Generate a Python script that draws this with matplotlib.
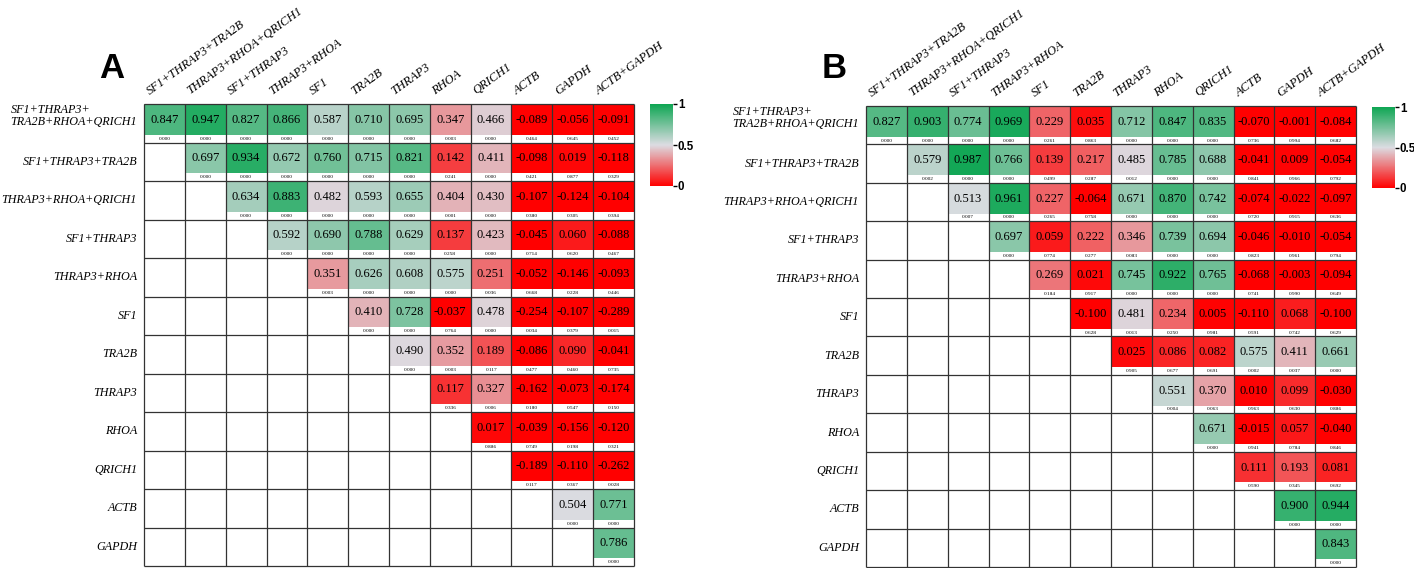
import matplotlib
matplotlib.use("Agg")
import matplotlib.pyplot as plt
from matplotlib.colors import LinearSegmentedColormap, Normalize
from matplotlib.cm import ScalarMappable
from matplotlib.patches import Rectangle

# labels shared by both panels
row_labels = ["SF1+THRAP3+\nTRA2B+RHOA+QRICH1", "SF1+THRAP3+TRA2B", "THRAP3+RHOA+QRICH1",
              "SF1+THRAP3", "THRAP3+RHOA", "SF1", "TRA2B", "THRAP3", "RHOA", "QRICH1",
              "ACTB", "GAPDH"]
col_labels = ["SF1+THRAP3+TRA2B", "THRAP3+RHOA+QRICH1", "SF1+THRAP3", "THRAP3+RHOA",
              "SF1", "TRA2B", "THRAP3", "RHOA", "QRICH1", "ACTB", "GAPDH", "ACTB+GAPDH"]

# upper triangle, row i starts at column i
corr_a = [
    [0.847, 0.947, 0.827, 0.866, 0.587, 0.710, 0.695, 0.347, 0.466, -0.089, -0.056, -0.091],
    [0.697, 0.934, 0.672, 0.760, 0.715, 0.821, 0.142, 0.411, -0.098, 0.019, -0.118],
    [0.634, 0.883, 0.482, 0.593, 0.655, 0.404, 0.430, -0.107, -0.124, -0.104],
    [0.592, 0.690, 0.788, 0.629, 0.137, 0.423, -0.045, 0.060, -0.088],
    [0.351, 0.626, 0.608, 0.575, 0.251, -0.052, -0.146, -0.093],
    [0.410, 0.728, -0.037, 0.478, -0.254, -0.107, -0.289],
    [0.490, 0.352, 0.189, -0.086, 0.090, -0.041],
    [0.117, 0.327, -0.162, -0.073, -0.174],
    [0.017, -0.039, -0.156, -0.120],
    [-0.189, -0.110, -0.262],
    [0.504, 0.771],
    [0.786],
]
pval_a = [
    [0.000, 0.000, 0.000, 0.000, 0.000, 0.000, 0.000, 0.003, 0.000, 0.464, 0.645, 0.452],
    [0.000, 0.000, 0.000, 0.000, 0.000, 0.000, 0.241, 0.000, 0.421, 0.877, 0.329],
    [0.000, 0.000, 0.000, 0.000, 0.000, 0.001, 0.000, 0.380, 0.305, 0.394],
    [0.000, 0.000, 0.000, 0.000, 0.258, 0.000, 0.714, 0.620, 0.467],
    [0.003, 0.000, 0.000, 0.000, 0.036, 0.668, 0.228, 0.446],
    [0.000, 0.000, 0.764, 0.000, 0.034, 0.379, 0.015],
    [0.000, 0.003, 0.117, 0.477, 0.460, 0.735],
    [0.336, 0.006, 0.180, 0.547, 0.150],
    [0.886, 0.749, 0.198, 0.321],
    [0.117, 0.367, 0.028],
    [0.000, 0.000],
    [0.000],
]
corr_b = [
    [0.827, 0.903, 0.774, 0.969, 0.229, 0.035, 0.712, 0.847, 0.835, -0.070, -0.001, -0.084],
    [0.579, 0.987, 0.766, 0.139, 0.217, 0.485, 0.785, 0.688, -0.041, 0.009, -0.054],
    [0.513, 0.961, 0.227, -0.064, 0.671, 0.870, 0.742, -0.074, -0.022, -0.097],
    [0.697, 0.059, 0.222, 0.346, 0.739, 0.694, -0.046, -0.010, -0.054],
    [0.269, 0.021, 0.745, 0.922, 0.765, -0.068, -0.003, -0.094],
    [-0.100, 0.481, 0.234, 0.005, -0.110, 0.068, -0.100],
    [0.025, 0.086, 0.082, 0.575, 0.411, 0.661],
    [0.551, 0.370, 0.010, 0.099, -0.030],
    [0.671, -0.015, 0.057, -0.040],
    [0.111, 0.193, 0.081],
    [0.900, 0.944],
    [0.843],
]
pval_b = [
    [0.000, 0.000, 0.000, 0.000, 0.261, 0.863, 0.000, 0.000, 0.000, 0.736, 0.994, 0.682],
    [0.002, 0.000, 0.000, 0.499, 0.287, 0.012, 0.000, 0.000, 0.841, 0.966, 0.792],
    [0.007, 0.000, 0.265, 0.758, 0.000, 0.000, 0.000, 0.720, 0.915, 0.636],
    [0.000, 0.774, 0.277, 0.083, 0.000, 0.000, 0.823, 0.961, 0.794],
    [0.184, 0.917, 0.000, 0.000, 0.000, 0.741, 0.990, 0.649],
    [0.628, 0.013, 0.250, 0.981, 0.591, 0.742, 0.629],
    [0.905, 0.677, 0.691, 0.002, 0.037, 0.000],
    [0.004, 0.063, 0.963, 0.630, 0.886],
    [0.000, 0.941, 0.784, 0.846],
    [0.590, 0.345, 0.692],
    [0.000, 0.000],
    [0.000],
]

W, H = 1414, 568
SERIF = "Liberation Serif"
cmap = LinearSegmentedColormap.from_list("rg", ["#ff0000", "#dcdce2", "#0ea653"])
norm = Normalize(0, 1)


def panel(grid_px, cbar_px, letter_px, letter, corr, pval):
    x0, y0, x1, y1 = grid_px
    ax = fig.add_axes([x0 / W, 1 - y1 / H, (x1 - x0) / W, (y1 - y0) / H])
    n = len(row_labels)
    ax.set_xlim(0, n)
    ax.set_ylim(n, 0)
    ax.axis("off")

    for i, row in enumerate(corr):
        for k, v in enumerate(row):
            j = i + k
            ax.add_patch(Rectangle((j, i), 1, 0.8, facecolor=cmap(norm(v)), edgecolor="none"))
            ax.text(j + 0.5, i + 0.41, f"{v:.3f}", ha="center", va="center",
                    family=SERIF, fontsize=9)
            ax.text(j + 0.5, i + 0.9, f"{pval[i][k]:.3f}", ha="center", va="center",
                    family=SERIF, fontsize=3.8)

    ax.hlines(range(n + 1), 0, n, color="#333333", lw=0.9, clip_on=False)
    ax.vlines(range(n + 1), 0, n, color="#333333", lw=0.9, clip_on=False)

    for i, lab in enumerate(row_labels):
        y = i + 0.5 if "\n" not in lab else i + 0.3
        ax.text(-0.17, y, lab, ha="right", va="center", multialignment="left",
                family=SERIF, style="italic", fontsize=8.7, linespacing=1.0)
    for j, lab in enumerate(col_labels):
        ax.text(j + 0.18, -0.18, lab, ha="left", va="bottom", rotation=36,
                rotation_mode="anchor", family=SERIF, style="italic", fontsize=9)

    cx0, cy0, cx1, cy1 = cbar_px
    cax = fig.add_axes([cx0 / W, 1 - cy1 / H, (cx1 - cx0) / W, (cy1 - cy0) / H])
    cb = fig.colorbar(ScalarMappable(norm=norm, cmap=cmap), cax=cax, ticks=[0, 0.5, 1])
    cb.outline.set_visible(False)
    cb.ax.set_yticklabels(["0", "0.5", "1"])
    cb.ax.tick_params(length=3, width=1, pad=0.5, labelsize=8.3)
    for t in cb.ax.get_yticklabels():
        t.set_fontweight("bold")
        t.set_family("Liberation Sans")

    fig.text(letter_px[0] / W, 1 - letter_px[1] / H, letter, ha="center", va="center",
             family="Liberation Sans", fontweight="bold", fontsize=25)


fig = plt.figure(figsize=(W / 100, H / 100), dpi=100)
panel((144, 104, 634, 566), (650, 104, 673, 186), (112, 69), "A", corr_a, pval_a)
panel((866, 106, 1356, 567), (1372, 107, 1395, 188), (834, 69), "B", corr_b, pval_b)
fig.savefig("out.png", dpi=100)
